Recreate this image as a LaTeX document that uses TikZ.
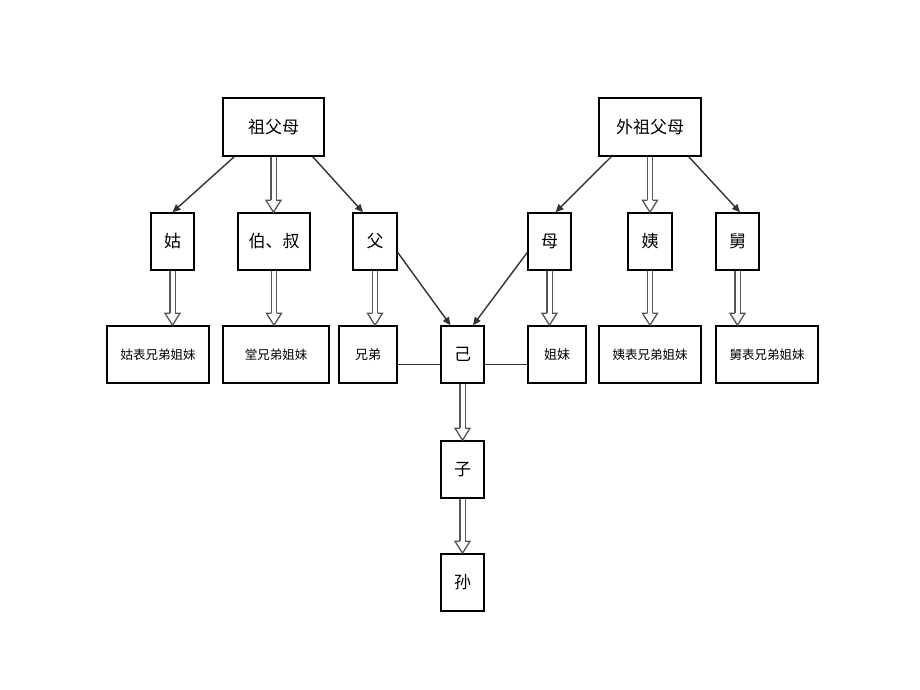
\documentclass[tikz,border=0pt]{standalone}
\usepackage{fontspec}
\newfontfamily\cjk{Noto Sans CJK SC}
\usetikzlibrary{arrows.meta,calc,decorations.markings}
\definecolor{lnk}{HTML}{333333}
\definecolor{dbc}{HTML}{555555}
\tikzset{
  box/.style={draw=black, line width=1.5pt, inner sep=0pt, fill=white,
    font=\cjk\fontsize{17}{17}\selectfont},
  bigbox/.style={box, minimum width=102pt, minimum height=58pt},
  smallbox/.style={box, minimum width=43pt, minimum height=57pt},
  widebox/.style={box, minimum width=102pt, minimum height=57pt,
    font=\cjk\fontsize{12.5}{12.5}\selectfont},
  midbox/.style={box, minimum width=58pt, minimum height=57pt,
    font=\cjk\fontsize{13}{13}\selectfont},
  arr/.style={draw=lnk, line width=1.4pt, -{Triangle[length=8pt,width=7pt]}},
  plain/.style={draw=lnk, line width=1.3pt},
  dbl/.style={draw=dbc, line width=1.3pt, double=white, double distance=4pt,
    shorten >=12pt,
    postaction={decorate, decoration={markings, mark=at position 1 with {
      \fill[white, shorten >=0pt] (0pt,0pt) -- (-12pt,7.5pt) -- (-12pt,-7.5pt) -- cycle;
      \draw[dbc, line width=1.3pt, line join=miter, shorten >=0pt, shorten <=0pt]
        (-12pt,2.6pt) -- (-12pt,7.5pt) -- (0pt,0pt) -- (-12pt,-7.5pt) -- (-12pt,-2.6pt);
    }}}},
}
\begin{document}
\begin{tikzpicture}[x=1pt,y=-1pt]
\useasboundingbox[fill=white] (0,0) rectangle (920,690);
% top row
\node[bigbox, minimum width=101pt] (zfm) at (273.5,127) {祖父母};
\node[bigbox] (wzfm) at (650,127) {外祖父母};
% middle row
\node[smallbox] (gu) at (172.5,241.5) {姑};
\node[box, minimum width=72pt, minimum height=57pt] (bs) at (274,241.5) {伯、叔};
\node[smallbox, minimum width=44pt] (fu) at (375,241.5) {父};
\node[smallbox] (mu) at (549.5,241.5) {母};
\node[smallbox, minimum width=44pt] (yi) at (650,241.5) {姨};
\node[smallbox] (jiu) at (737.5,241.5) {舅};
% third row
\node[widebox] (gub) at (158,354.5) {姑表兄弟姐妹};
\node[widebox, minimum width=106pt] (tang) at (276,354.5) {堂兄弟姐妹};
\node[midbox] (xd) at (368,354.5) {兄弟};
\node[smallbox] (ji) at (462.5,354.5) {己};
\node[midbox] (jm) at (557,354.5) {姐妹};
\node[widebox] (yib) at (650,354.5) {姨表兄弟姐妹};
\node[widebox] (jiub) at (767,354.5) {舅表兄弟姐妹};
% descendants
\node[smallbox] (zi) at (462.5,469.5) {子};
\node[smallbox] (sun) at (462.5,582.5) {孙};
% filled arrows
\draw[arr] ($(zfm.south west)+(12,0)$) -- (gu.north);
\draw[arr] ($(zfm.south east)+(-12,0)$) -- ($(fu.north)+(-12,0)$);
\draw[arr] ($(wzfm.south west)+(13,0)$) -- ($(mu.north)+(6,0)$);
\draw[arr] ($(wzfm.south east)+(-13,0)$) -- ($(jiu.north)+(2.5,0)$);
\draw[arr] ($(fu.east)+(0,11)$) -- ($(ji.north)+(-12,0)$);
\draw[arr] ($(mu.west)+(0,11)$) -- ($(ji.north)+(10.5,0)$);
% plain lines
\draw[plain] ($(xd.east)+(0,10)$) -- ($(ji.west)+(0,10)$);
\draw[plain] ($(ji.east)+(0,10)$) -- ($(jm.west)+(0,10)$);
% hollow double arrows
\draw[dbl] (zfm.south) -- (zfm.south |- bs.north);
\draw[dbl] (wzfm.south) -- (yi.north);
\draw[dbl] (gu.south) -- (gu.south |- gub.north);
\draw[dbl] (bs.south) -- (bs.south |- tang.north);
\draw[dbl] (fu.south) -- (fu.south |- xd.north);
\draw[dbl] (mu.south) -- (mu.south |- jm.north);
\draw[dbl] (yi.south) -- (yib.north);
\draw[dbl] (jiu.south) -- (jiu.south |- jiub.north);
\draw[dbl] (ji.south) -- (zi.north);
\draw[dbl] (zi.south) -- (sun.north);
\end{tikzpicture}
\end{document}
